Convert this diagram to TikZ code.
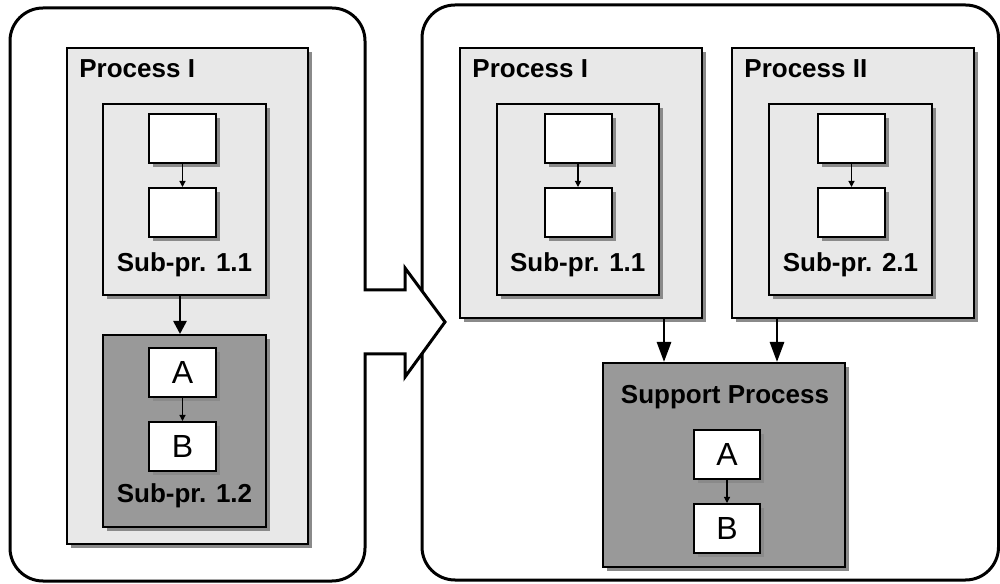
\documentclass[tikz,border=0pt]{standalone}
\usepackage{fontspec}
\setmainfont{Liberation Sans}
\usetikzlibrary{shadows,arrows.meta}
\definecolor{lightfill}{HTML}{E8E8E8}
\definecolor{darkfill}{HTML}{999999}
\definecolor{shade}{HTML}{8A8A8A}
\begin{document}
\begin{tikzpicture}[x=0.5pt,y=0.5pt,
  shadowed/.style={drop shadow={shadow xshift=2pt,shadow yshift=-2pt,fill=shade,opacity=1}},
  boxbase/.style={rectangle,draw=black,line width=1pt,inner sep=0pt,shadowed},
  procbox/.style={boxbase,fill=lightfill},
  supbox/.style={boxbase,fill=darkfill},
  stepbox/.style={boxbase,fill=white,minimum width=33.5pt,minimum height=24.5pt,
    font=\fontsize{16}{18}\selectfont},
  boxtitle/.style={anchor=base west,inner sep=0pt,font=\fontsize{13}{15}\selectfont\bfseries},
  subtitle/.style={anchor=base,inner sep=0pt,font=\fontsize{13}{15}\selectfont\bfseries},
  thinarrow/.style={-{Triangle[length=3pt,width=3pt]},line width=0.6pt},
  shortarrow/.style={-{Triangle[length=6.5pt,width=6.5pt]},line width=1.3pt},
  longarrow/.style={-{Triangle[length=10pt,width=7pt]},line width=1.4pt},
  panel/.style={draw=black,line width=1.5pt,fill=white,line join=miter}
]
\useasboundingbox (0,0) rectangle (1000,583);
\fill[white] (0,0) rectangle (1000,583);

% right-hand frame
\draw[panel,rounded corners=16.5pt] (422,3) rectangle (998.5,578);

% left-hand frame with the transition arrow
\draw[panel] (365,229) -- (365,35) arc[start angle=0,end angle=-90,radius=16.5pt]
  -- (43,2) arc[start angle=270,end angle=180,radius=16.5pt]
  -- (10,542) arc[start angle=180,end angle=90,radius=16.5pt]
  -- (332,575) arc[start angle=90,end angle=0,radius=16.5pt]
  -- (365,293) -- (405,293) -- (405,315) -- (445,261) -- (405,206) -- (405,229) -- cycle;

% ---- left: Process I with two sub-processes
\node[procbox,minimum width=120.5pt,minimum height=248pt] (pl) at (187.5,287) {};
\node[boxtitle] (pltitle) at (79,505) {Process I};
\node[procbox,minimum width=81.5pt,minimum height=95.5pt] (s11l) at (184.5,383.5) {};
\node[stepbox] (s11la) at (182.5,444.5) {};
\node[stepbox] (s11lb) at (182.5,370.5) {};
\node[subtitle] (s11ltitle) at (184.5,311) {Sub-pr. 1.1};
\node[supbox,minimum width=81.5pt,minimum height=96pt] (s12l) at (184.5,152) {};
\node[stepbox] (s12la) at (182.5,210.5) {A};
\node[stepbox] (s12lb) at (182.5,136.5) {B};
\node[subtitle] (s12ltitle) at (184.5,80) {Sub-pr. 1.2};
\draw[thinarrow] (s11la) -- (s11lb);
\draw[thinarrow] (s12la) -- (s12lb);
\draw[shortarrow] ([xshift=-2.25pt]s11l.south) -- ([xshift=-2.25pt]s12l.north);

% ---- right: Process I
\node[procbox,minimum width=121.25pt,minimum height=135pt] (p1r) at (580.75,400) {};
\node[boxtitle] (p1rtitle) at (472,505) {Process I};
\node[procbox,minimum width=81.25pt,minimum height=95.5pt] (s11r) at (577.75,383.5) {};
\node[stepbox] (s11ra) at (578,444.5) {};
\node[stepbox] (s11rb) at (578,370.5) {};
\node[subtitle] (s11rtitle) at (577.75,311) {Sub-pr. 1.1};
\draw[thinarrow] (s11ra) -- (s11rb);

% ---- right: Process II
\node[procbox,minimum width=121pt,minimum height=135pt] (p2r) at (853,400) {};
\node[boxtitle] (p2rtitle) at (744,505) {Process II};
\node[procbox,minimum width=81.5pt,minimum height=95.5pt] (s21r) at (850.5,383.5) {};
\node[stepbox] (s21ra) at (851.5,444.5) {};
\node[stepbox] (s21rb) at (851.5,370.5) {};
\node[subtitle] (s21rtitle) at (850.5,311) {Sub-pr. 2.1};
\draw[thinarrow] (s21ra) -- (s21rb);

% ---- right: shared support process
\node[supbox,minimum width=121pt,minimum height=102pt] (sup) at (724,118) {};
\node[subtitle] (suptitle) at (725,179) {Support Process};
\node[stepbox,minimum width=33pt] (supa) at (727,128.5) {A};
\node[stepbox,minimum width=33pt] (supb) at (727,54.5) {B};
\draw[thinarrow] (supa) -- (supb);

\coordinate (c1) at (664,0);
\coordinate (c2) at (777,0);
\draw[longarrow] (p1r.south -| c1) -- (sup.north -| c1);
\draw[longarrow] (p2r.south -| c2) -- (sup.north -| c2);
\end{tikzpicture}
\end{document}
